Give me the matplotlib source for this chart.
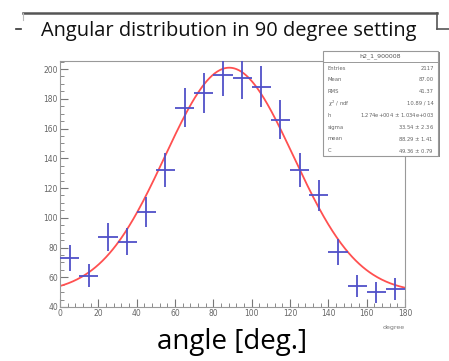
import numpy as np
import matplotlib as mpl
mpl.use('Agg')
import matplotlib.pyplot as plt
from matplotlib.ticker import MultipleLocator
from matplotlib.lines import Line2D
from matplotlib.patches import Rectangle

# ========================================================================================
# data (bin centres in degrees, counts)

angles = [5, 15, 25, 35, 45, 55, 65, 75, 85, 95, 105, 115, 125, 135, 145, 155, 165, 175]
counts = [73, 61, 87, 84, 104, 132, 174, 184, 196, 194, 188, 166, 132, 115, 77, 54, 50, 52]
bin_half_width = 5

# fit parameters from the stats box: gaus + constant
fit_h = 1.274e4
fit_sigma = 33.54
fit_mean = 88.29
fit_c = 49.36

stats_title = "h2_1_900008"
stats_names = ["Entries", "Mean", "RMS", "$\\chi^2$ / ndf", "h", "sigma", "mean", "C"]
stats_values = ["2117", "87.00", "41.37", "10.89 / 14", "1.274e+004 $\\pm$ 1.034e+003",
                "33.54 $\\pm$ 2.36", "88.29 $\\pm$ 1.41", "49.36 $\\pm$ 0.79"]

# ========================================================================================

W, H = 449, 361
fig = plt.figure(figsize=(W / 100, H / 100), dpi=100)

def px(x, y):
    return x / W, 1 - y / H

# slide frame lines and title
fig.add_artist(Line2D([23 / W, 437 / W], [1 - 12.5 / H] * 2, color='#555555', lw=1.8))
fig.add_artist(Line2D([437 / W] * 2, [1 - 12.5 / H, 1 - 29 / H], color='#555555', lw=1.2))
fig.add_artist(Line2D([437 / W, 449 / W], [1 - 29 / H] * 2, color='#555555', lw=1.2))
fig.add_artist(Line2D([23 / W] * 2, [1 - 12.5 / H, 1 - 20 / H], color='#bbbbbb', lw=0.8))
fig.add_artist(Line2D([16 / W, 21 / W], [1 - 29 / H] * 2, color='#333333', lw=1.2))

fig.text(228.5 / W, 1 - 31 / H, "Angular distribution in 90 degree setting",
         ha='center', va='center', fontsize=14.4, family='Open Sans', color='#111111')
fig.text(232 / W, 1 - 342 / H, "angle [deg.]", ha='center', va='center',
         fontsize=20, family='Open Sans', color='black')

# ========================================================================================

ax = fig.add_axes([60 / W, (361 - 307) / H, 345 / W, (307 - 61) / H])

x_fit = np.linspace(0, 180, 400)
y_fit = fit_h / (np.sqrt(2 * np.pi) * fit_sigma) * np.exp(-0.5 * ((x_fit - fit_mean) / fit_sigma) ** 2) + fit_c
ax.plot(x_fit, y_fit, color='#ff5050', lw=1.3, zorder=2)

ax.errorbar(angles, counts, xerr=bin_half_width, yerr=np.sqrt(counts), fmt='none',
            ecolor='#5050c8', elinewidth=1.3, capsize=0, zorder=3)

ax.set_xlim(0, 180)
ax.set_ylim(40, 205.4)
ax.xaxis.set_major_locator(MultipleLocator(20))
ax.xaxis.set_minor_locator(MultipleLocator(4))
ax.yaxis.set_major_locator(MultipleLocator(20))
ax.yaxis.set_minor_locator(MultipleLocator(5))
ax.tick_params(which='both', direction='in', color='#777777', labelcolor='#666666',
               labelsize=5.5, top=False, right=False)
ax.tick_params(which='major', length=6, width=0.8, pad=1.5)
ax.tick_params(which='minor', length=3, width=0.6)
for s in ax.spines.values():
    s.set_color('#999999')
    s.set_linewidth(0.8)

ax.text(1.0, -0.075, "degree", transform=ax.transAxes, ha='right', va='top',
        fontsize=4.5, color='#777777')

# ========================================================================================
# stats box

bx0, by0, bx1, by1 = 323, 51, 438, 156
fig.add_artist(Rectangle(px(bx0 + 1.5, by1 + 1.5), (bx1 - bx0) / W, (by1 - by0) / H,
                         transform=fig.transFigure, facecolor='#888888', edgecolor='none', zorder=5))
fig.add_artist(Rectangle(px(bx0, by1), (bx1 - bx0) / W, (by1 - by0) / H,
                         transform=fig.transFigure, facecolor='white', edgecolor='#999999',
                         lw=0.8, zorder=6))
fig.add_artist(Line2D([bx0 / W, bx1 / W], [1 - 62 / H] * 2, color='#999999', lw=0.7, zorder=7))
fig.text((bx0 + bx1) / 2 / W, 1 - 56.5 / H, stats_title, ha='center', va='center',
         fontsize=4.5, color='#555555', zorder=8)
for i, (name, val) in enumerate(zip(stats_names, stats_values)):
    yy = 1 - (68 + i * 11.8) / H
    fig.text((bx0 + 5) / W, yy, name, ha='left', va='center', fontsize=3.8,
             color='#666666', zorder=8)
    fig.text((bx1 - 4) / W, yy, val, ha='right', va='center', fontsize=3.8,
             color='#666666', zorder=8)

plt.savefig("out.png", dpi=100)
